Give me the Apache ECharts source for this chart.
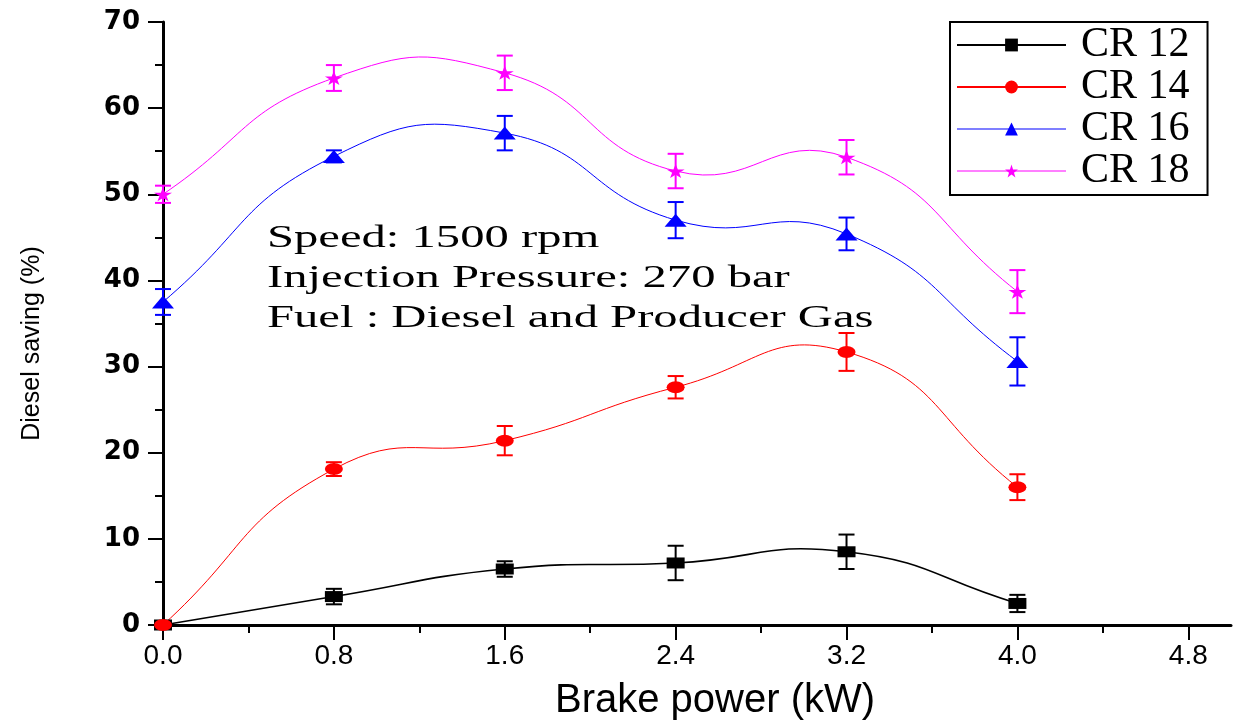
<!DOCTYPE html>
<html>
<head>
<meta charset="utf-8">
<title>Diesel saving vs brake power</title>
<script src="https://cdn.jsdelivr.net/npm/echarts@6/dist/echarts.min.js"></script>
<style>
  html, body { margin: 0; padding: 0; background: #fff; }
  #chart { width: 1233px; height: 721px; }
</style>
</head>
<body>
<div id="chart"></div>
<script>
// Brake power levels (kW)
const brakePower = [0, 0.8, 1.6, 2.4, 3.2, 4.0];

// Diesel saving (%) and its error for each compression ratio
const cr12 = [0, 3.3, 6.5, 7.2, 8.5, 2.5];
const cr12Err = [0, 0.9, 0.9, 2.0, 2.0, 1.0];
const cr14 = [0, 18.1, 21.4, 27.6, 31.7, 16.0];
const cr14Err = [0, 0.8, 1.7, 1.3, 2.2, 1.5];
const cr16 = [37.5, 54.4, 57.1, 47.0, 45.4, 30.6];
const cr16Err = [1.5, 0.7, 2.0, 2.1, 1.9, 2.8];
const cr18 = [50.0, 63.5, 64.1, 52.7, 54.3, 38.7];
const cr18Err = [1.0, 1.5, 2.0, 2.0, 2.0, 2.5];

const seriesNames = ['CR 12', 'CR 14', 'CR 16', 'CR 18'];

// Axis ticks
const xMajorTicks = [0, 0.8, 1.6, 2.4, 3.2, 4.0, 4.8];
const xMinorTicks = [0.4, 1.2, 2.0, 2.8, 3.6, 4.4];

// Test conditions printed inside the plot
const noteLines = [
  'Speed: 1500 rpm',
  'Injection Pressure: 270 bar',
  'Fuel : Diesel and Producer Gas'
];

const starPath = 'path://M50,0 L61.8,35.1 L98.1,35.1 L68.8,56.8 L79.4,90.5 L50,69.7 L20.6,90.5 L31.2,56.8 L1.9,35.1 L38.2,35.1 Z';

const styles = [
  { color: '#000000', symbol: 'rect', size: [18, 11], width: 1.6, legendWidth: 2 },
  { color: '#ff0000', symbol: 'circle', size: [18, 12], width: 1, legendWidth: 2 },
  { color: '#0000ff', symbol: 'triangle', size: [22, 13], width: 1, legendWidth: 1.2 },
  { color: '#ff00ff', symbol: starPath, size: [18, 14], width: 1, legendWidth: 1.2 }
];

const values = [cr12, cr14, cr16, cr18];
const errors = [cr12Err, cr14Err, cr16Err, cr18Err];

function pairs(ys) {
  return brakePower.map((x, i) => [x, ys[i]]);
}
function triples(ys, es) {
  return brakePower.map((x, i) => [x, ys[i], es[i]]);
}

// Vertical error bar with caps, positioned through the axis scales
function errorBarRenderer(color) {
  return function (params, api) {
    const x = api.value(0), y = api.value(1), e = api.value(2);
    if (!e) return null;
    const top = api.coord([x, y + e]);
    const bot = api.coord([x, y - e]);
    const hw = 8;
    const style = { stroke: color, lineWidth: 2, fill: null };
    return {
      type: 'group',
      children: [
        { type: 'line', shape: { x1: top[0], y1: top[1], x2: bot[0], y2: bot[1] }, style },
        { type: 'line', shape: { x1: top[0] - hw, y1: top[1], x2: top[0] + hw, y2: top[1] }, style },
        { type: 'line', shape: { x1: bot[0] - hw, y1: bot[1], x2: bot[0] + hw, y2: bot[1] }, style }
      ]
    };
  };
}

// Smooth spline through the measured points (cubic Bezier segments whose
// tangents follow the neighbouring points, free to bulge past the data)
function curveRenderer(k) {
  return function (params, api) {
    const ys = values[k];
    const pts = brakePower.map((x, i) => api.coord([x, ys[i]]));
    const n = pts.length;
    const s = 0.5;
    const cpOut = [], cpIn = [];
    for (let i = 0; i < n; i++) {
      const p = pts[i];
      const prev = pts[Math.max(i - 1, 0)];
      const next = pts[Math.min(i + 1, n - 1)];
      const vx = next[0] - prev[0], vy = next[1] - prev[1];
      const l0 = Math.hypot(p[0] - prev[0], p[1] - prev[1]);
      const l1 = Math.hypot(next[0] - p[0], next[1] - p[1]);
      const r = (l0 + l1) > 0 ? l1 / (l0 + l1) : 0.5;
      cpOut[i] = [p[0] + vx * s * r, p[1] + vy * s * r];
      cpIn[i] = [p[0] - vx * s * (1 - r), p[1] - vy * s * (1 - r)];
    }
    const style = { stroke: styles[k].color, lineWidth: styles[k].width, fill: null };
    const children = [];
    for (let i = 0; i < n - 1; i++) {
      children.push({
        type: 'bezierCurve',
        shape: {
          x1: pts[i][0], y1: pts[i][1],
          x2: pts[i + 1][0], y2: pts[i + 1][1],
          cpx1: cpOut[i][0], cpy1: cpOut[i][1],
          cpx2: cpIn[i + 1][0], cpy2: cpIn[i + 1][1]
        },
        style
      });
    }
    return { type: 'group', children };
  };
}

const series = [];
seriesNames.forEach((name, k) => {
  series.push({
    name: name + ' curve',
    type: 'custom',
    silent: true,
    renderItem: curveRenderer(k),
    encode: { x: 0, y: 1 },
    data: [[brakePower[0], values[k][0]]],
    z: 2
  });
  series.push({
    name: name + ' error',
    type: 'custom',
    silent: true,
    renderItem: errorBarRenderer(styles[k].color),
    encode: { x: 0, y: 1 },
    data: triples(values[k], errors[k]),
    z: 2
  });
});
seriesNames.forEach((name, k) => {
  series.push({
    name: name,
    type: 'line',
    symbol: styles[k].symbol,
    symbolSize: styles[k].size,
    showAllSymbol: true,
    clip: false,
    color: styles[k].color,
    itemStyle: { color: styles[k].color, borderWidth: 0 },
    lineStyle: { color: styles[k].color, width: styles[k].width, opacity: 0 },
    emphasis: { disabled: true },
    data: pairs(values[k]),
    z: 3
  });
});

const chart = echarts.init(document.getElementById('chart'));
chart.setOption({
  animation: false,
  backgroundColor: '#ffffff',
  grid: { left: 163, right: 2, top: 22, bottom: 96, containLabel: false, outerBoundsMode: 'none' },
  legend: {
    data: seriesNames.map((name, k) => ({
      name,
      lineStyle: { color: styles[k].color, width: styles[k].legendWidth, opacity: 1 }
    })),
    orient: 'vertical',
    left: 950,
    top: 22,
    padding: [2, 18, 3, 6],
    borderColor: '#000',
    borderWidth: 2,
    itemWidth: 109,
    itemHeight: 16,
    itemGap: 0,
    selectedMode: false,
    textStyle: {
      fontFamily: '"Liberation Serif", serif',
      fontSize: 42,
      color: '#000',
      padding: [0, 0, 0, 10]
    }
  },
  xAxis: [
    {
      type: 'value',
      min: 0,
      max: 5,
      interval: 0.8,
      name: 'Brake power (kW)',
      nameLocation: 'middle',
      nameGap: 56,
      nameTextStyle: {
        fontFamily: '"Liberation Sans", Arial, sans-serif',
        fontSize: 40,
        color: '#000',
        padding: [0, 0, 0, 36]
      },
      axisLine: { show: true, onZero: false, lineStyle: { color: '#000', width: 3 } },
      axisTick: { show: true, length: 15, lineStyle: { color: '#000', width: 2 }, customValues: xMajorTicks },
      axisLabel: {
        customValues: xMajorTicks,
        formatter: v => Number(v).toFixed(1),
        fontFamily: '"Liberation Sans", Arial, sans-serif',
        fontSize: 28,
        color: '#000',
        margin: 17
      },
      splitLine: { show: false }
    },
    {
      type: 'value',
      min: 0,
      max: 5,
      interval: 0.4,
      position: 'bottom',
      axisLine: { show: false },
      axisTick: { show: true, length: 8, lineStyle: { color: '#000', width: 2 }, customValues: xMinorTicks },
      axisLabel: { show: false },
      splitLine: { show: false }
    }
  ],
  yAxis: {
    type: 'value',
    min: 0,
    max: 70,
    interval: 10,
    name: 'Diesel saving (%)',
    nameLocation: 'middle',
    nameGap: 118,
    nameTextStyle: {
      fontFamily: '"Liberation Sans", Arial, sans-serif',
      fontSize: 25,
      color: '#000',
      padding: [0, 40, 0, 0]
    },
    axisLine: { show: true, onZero: false, lineStyle: { color: '#000', width: 3 } },
    axisTick: { show: true, length: 15, lineStyle: { color: '#000', width: 2 } },
    minorTick: { show: true, splitNumber: 2, length: 8, lineStyle: { color: '#000', width: 2 } },
    axisLabel: {
      fontFamily: '"DejaVu Sans", sans-serif',
      fontWeight: 'bold',
      fontSize: 26,
      color: '#000',
      margin: 23
    },
    splitLine: { show: false },
    minorSplitLine: { show: false }
  },
  graphic: [
    {
      type: 'text',
      x: 267,
      y: 219,
      scaleX: 1.52,
      silent: true,
      style: {
        text: noteLines.join('\n'),
        fontFamily: '"Liberation Serif", serif',
        fontSize: 32,
        lineHeight: 40,
        fill: '#000',
        verticalAlign: 'top',
        align: 'left'
      }
    }
  ],
  series: series
});
</script>
</body>
</html>
